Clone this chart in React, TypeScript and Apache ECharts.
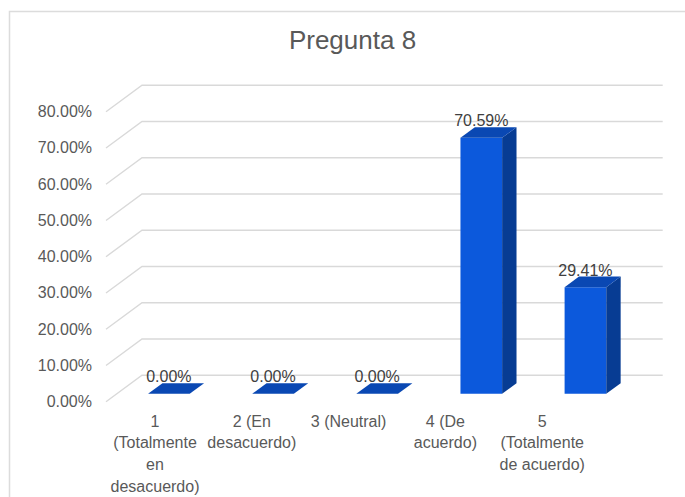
import React, { useEffect, useRef } from "react";
import * as echarts from "echarts";

// Survey answers for question 8 and the share of responses for each one
const categories = [
  "1\n(Totalmente\nen\ndesacuerdo)",
  "2 (En\ndesacuerdo)",
  "3 (Neutral)",
  "4 (De\nacuerdo)",
  "5\n(Totalmente\nde acuerdo)",
];
const shares = [0, 0, 0, 0.7059, 0.2941];
const valueTicks = [0, 0.1, 0.2, 0.3, 0.4, 0.5, 0.6, 0.7, 0.8];

const FONT = "'Liberation Sans', Arial, Helvetica, sans-serif";
const TEXT = "#595959";
const GRID_LINE = "#d9d9d9";

// Oblique depth of the 3D plot box, in pixels
const DEPTH_X = 36;
const DEPTH_Y = 26.5;
// Bars occupy this slice of the depth (0 = front, 1 = back wall)
const BAR_D0 = 0.3;
const BAR_D1 = 0.7;

const pct = (v: number) => (v * 100).toFixed(2) + "%";

export default function App() {
  const ref = useRef<HTMLDivElement>(null);

  useEffect(() => {
    document.body.style.margin = "0";
    if (!ref.current) return;
    const chart = echarts.init(ref.current, undefined, { renderer: "svg" });

    const option: any = {
      animation: false,
      backgroundColor: "#ffffff",
      textStyle: { fontFamily: FONT },
      graphic: [
        {
          type: "rect",
          shape: { x: 9.5, y: 11.5, width: 720, height: 520 },
          style: { fill: "none", stroke: "#dcdcdc", lineWidth: 1.5 },
          silent: true,
        },
        {
          type: "text",
          x: 352.5,
          y: 40,
          style: {
            text: "Pregunta 8",
            fill: TEXT,
            font: `26px ${FONT}`,
            textAlign: "center",
            textVerticalAlign: "middle",
          },
        },
      ],
      grid: [
        // plot box (front plane)
        { left: 106, right: 58.3, top: 111.7, bottom: 95.3 },
        // category label strip
        { left: 106.6, right: 94.4, top: 111.7, bottom: 95.3 },
      ],
      xAxis: [
        {
          type: "category",
          gridIndex: 0,
          data: categories,
          axisLine: { show: false },
          axisTick: { show: false },
          axisLabel: { show: false },
          splitLine: { show: false },
        },
        {
          type: "category",
          gridIndex: 1,
          data: categories,
          axisLine: { show: false },
          axisTick: { show: false },
          splitLine: { show: false },
          axisLabel: {
            interval: 0,
            margin: 10.5,
            fontSize: 16,
            lineHeight: 21.7,
            color: TEXT,
            fontFamily: FONT,
            align: "center",
          },
        },
      ],
      yAxis: [
        {
          type: "value",
          gridIndex: 0,
          min: 0,
          max: 0.8,
          interval: 0.1,
          axisLine: { show: false },
          axisTick: { show: false },
          splitLine: { show: false },
          axisLabel: {
            formatter: (v: number) => pct(v),
            fontSize: 16,
            color: TEXT,
            fontFamily: FONT,
            margin: 14,
          },
        },
        {
          type: "value",
          gridIndex: 1,
          min: 0,
          max: 0.8,
          show: false,
        },
      ],
      series: [
        {
          // back wall gridlines with their slanted run from the value axis
          type: "custom",
          xAxisIndex: 0,
          yAxisIndex: 0,
          silent: true,
          z: 1,
          data: valueTicks.map((t) => [0, t]),
          encode: { x: 0, y: 1 },
          renderItem: (params: any, api: any) => {
            const cs = params.coordSys;
            const y = api.coord([0, api.value(1)])[1];
            return {
              type: "polyline",
              shape: {
                points: [
                  [cs.x, y],
                  [cs.x + DEPTH_X, y - DEPTH_Y],
                  [cs.x + cs.width + DEPTH_X, y - DEPTH_Y],
                ],
              },
              style: { stroke: GRID_LINE, lineWidth: 1.4, fill: "none" },
            };
          },
        },
        {
          // 3D bars: front, side and top faces plus the value label
          type: "custom",
          xAxisIndex: 0,
          yAxisIndex: 0,
          z: 3,
          data: shares.map((v, i) => [i, v]),
          encode: { x: 0, y: 1 },
          renderItem: (params: any, api: any) => {
            const idx = api.value(0);
            const v = api.value(1);
            const base = api.coord([idx, 0]);
            const top = api.coord([idx, v]);
            const band = api.size([1, 0])[0];
            const hw = band * 0.2;
            const x0 = base[0] - hw + BAR_D0 * DEPTH_X;
            const x1 = base[0] + hw + BAR_D0 * DEPTH_X;
            const yb = base[1] - BAR_D0 * DEPTH_Y;
            const yt = top[1] - BAR_D0 * DEPTH_Y;
            const ddx = (BAR_D1 - BAR_D0) * DEPTH_X;
            const ddy = (BAR_D1 - BAR_D0) * DEPTH_Y;
            const children: any[] = [];
            if (yb - yt > 0.5) {
              children.push({
                type: "polygon",
                shape: { points: [[x0, yt], [x1, yt], [x1, yb], [x0, yb]] },
                style: { fill: "#0c59dc" },
              });
              children.push({
                type: "polygon",
                shape: {
                  points: [
                    [x1, yt],
                    [x1 + ddx, yt - ddy],
                    [x1 + ddx, yb - ddy],
                    [x1, yb],
                  ],
                },
                style: { fill: "#073c93" },
              });
            }
            children.push({
              type: "polygon",
              shape: {
                points: [
                  [x0, yt],
                  [x1, yt],
                  [x1 + ddx, yt - ddy],
                  [x0 + ddx, yt - ddy],
                ],
              },
              style: { fill: "#0a48b3" },
            });
            children.push({
              type: "text",
              x: (x0 + x1) / 2,
              y: yt - ddy - 6.5,
              style: {
                text: pct(v),
                fill: "#404040",
                font: `16px ${FONT}`,
                textAlign: "center",
                textVerticalAlign: "middle",
              },
              z2: 10,
            });
            return { type: "group", children };
          },
        },
      ],
    };

    chart.setOption(option);
    return () => chart.dispose();
  }, []);

  return <div ref={ref} style={{ width: 685, height: 497 }} />;
}
